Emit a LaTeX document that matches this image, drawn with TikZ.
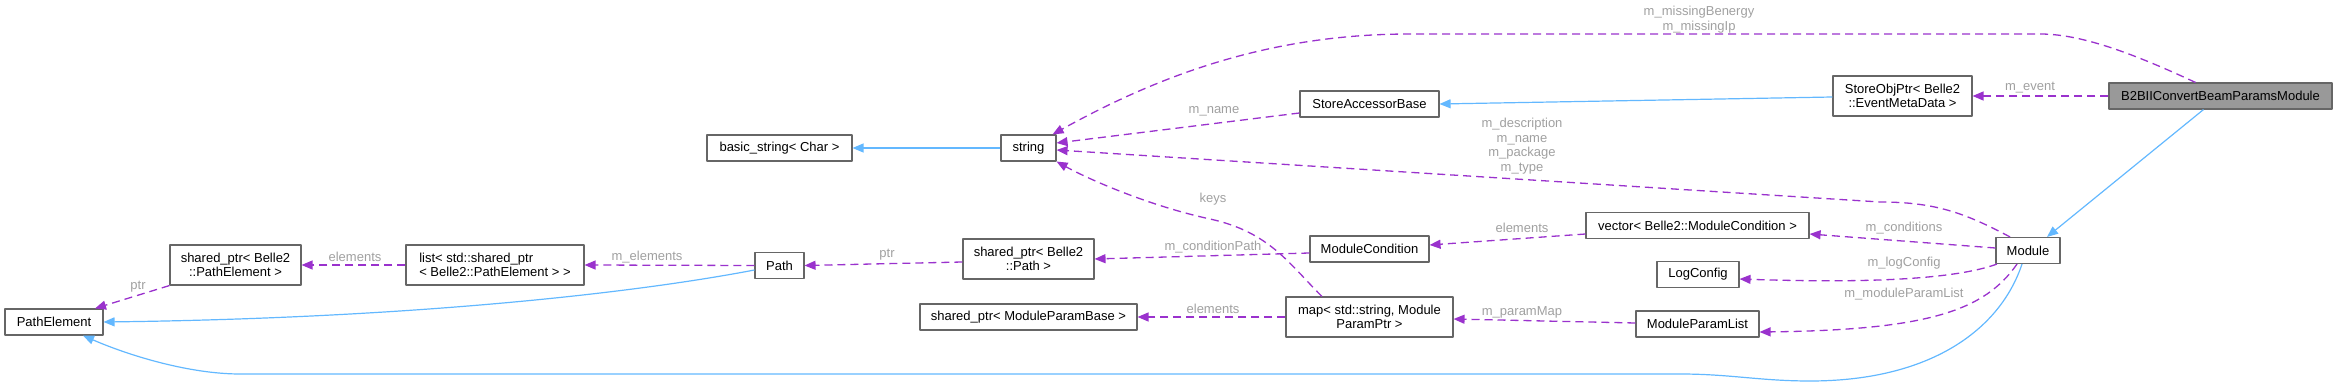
\documentclass[tikz,border=0pt]{standalone}
\usepackage{fontspec}
\setmainfont{Liberation Sans}
\usetikzlibrary{arrows.meta}
\definecolor{edgeviolet}{HTML}{9A32CD}
\definecolor{edgeblue}{HTML}{63B8FF}
\definecolor{boxgray}{HTML}{666666}
\definecolor{labelgray}{HTML}{A0A0A0}
\definecolor{focusfill}{HTML}{999999}
\begin{document}
\begin{tikzpicture}[x=1pt, y=-1pt, line join=round,
	cls/.style={draw=boxgray, line width=1.1pt, fill=white, inner sep=0pt, minimum height=26pt, font=\fontsize{13}{14.7}\selectfont, align=center},
	twoline/.style={minimum height=40pt},
	usedby/.style={draw=edgeviolet, line width=1.3pt, dash pattern=on 8pt off 5pt, -{Triangle[length=11pt,width=9pt]}},
	inherit/.style={draw=edgeblue, line width=1.2pt, -{Triangle[length=11pt,width=9pt]}},
	lbl/.style={text=labelgray, font=\fontsize{13}{14.7}\selectfont, align=center, inner sep=0pt}]
	\useasboundingbox (0,0) rectangle (2337,387);
	% classes
	\node[cls, minimum width=98pt] (pathelem) at (54,322) {PathElement};
	\node[cls, twoline, minimum width=131pt] (sppe) at (235.5,265) {shared\_ptr< Belle2\\::PathElement >};
	\node[cls, twoline, minimum width=178pt, align=left] (list) at (495,265) {list< std::shared\_ptr\\< Belle2::PathElement > >};
	\node[cls, minimum width=49pt] (path) at (779.5,265.5) {Path};
	\node[cls, minimum width=145pt] (bstring) at (779.5,148) {basic\_string< Char >};
	\node[cls, minimum width=55pt] (strng) at (1028.5,148) {string};
	\node[cls, twoline, minimum width=131pt] (sppath) at (1028.5,259) {shared\_ptr< Belle2\\::Path >};
	\node[cls, minimum width=217pt] (spmpb) at (1028.5,317) {shared\_ptr< ModuleParamBase >};
	\node[cls, minimum width=139pt] (sab) at (1369.5,104) {StoreAccessorBase};
	\node[cls, minimum width=119pt] (modcond) at (1369.5,249) {ModuleCondition};
	\node[cls, twoline, minimum width=167pt] (pmap) at (1369.5,317) {map< std::string, Module\\ParamPtr >};
	\node[cls, twoline, minimum width=139pt] (storeobj) at (1902.5,96) {StoreObjPtr< Belle2\\::EventMetaData >};
	\node[cls, minimum width=223pt] (vector) at (1697.5,225.5) {vector< Belle2::ModuleCondition >};
	\node[cls, minimum width=82pt] (logcfg) at (1698,274.5) {LogConfig};
	\node[cls, minimum width=123pt] (mplist) at (1697.5,324) {ModuleParamList};
	\node[cls, minimum width=64pt] (module) at (2028,250.5) {Module};
	\node[cls, minimum width=223pt, fill=focusfill] (b2bii) at (2220.5,96) {B2BIIConvertBeamParamsModule};
	% inheritance
	\draw[inherit] (strng) -- (bstring);
	\draw[inherit] ([yshift=-1pt]storeobj.west) -- (sab.east);
	\draw[inherit] ([xshift=-17pt]b2bii.south) -- ([xshift=19pt]module.north);
	\draw[inherit] ([yshift=-4.5pt]path.west) .. controls (640,292) and (420,318) .. (pathelem.east);
	\draw[inherit] ([xshift=-6pt]module.south) .. controls (2000,330) and (1930,381) .. (1810,381)
		.. controls (1760,381) and (1730,374) .. (1680,374) -- (240,374)
		.. controls (190,374) and (130,356) .. ([xshift=29pt]pathelem.south);
	% members
	\draw[usedby] ([xshift=-25pt]b2bii.north) .. controls (2130,52) and (2080,34) .. (2040,34) -- (1410,34)
		.. controls (1270,34) and (1160,75) .. ([xshift=-4pt]strng.north east);
	\node[lbl] (lmissing) at (1699,19.5) {m\_missingBenergy\\m\_missingIp};
	\draw[usedby] (b2bii.west) -- (storeobj.east);
	\node[lbl] (levent) at (2030,88) {m\_event};
	\draw[usedby] ([yshift=-9pt]sab.west) -- ([yshift=5pt]strng.east);
	\node[lbl] (lname) at (1214,111) {m\_name};
	\draw[usedby] ([xshift=-18pt]module.north) .. controls (1965,213) and (1935,202) .. (1880,202) -- ([yshift=-2pt]strng.east);
	\node[lbl] (ldescr) at (1522,146) {m\_description\\m\_name\\m\_package\\m\_type};
	\draw[usedby] ([yshift=2.5pt]module.west) -- ([yshift=-8.5pt]vector.east);
	\node[lbl] (lcond) at (1904,228) {m\_conditions};
	\draw[usedby] ([xshift=-31pt]module.south) .. controls (1945,283) and (1830,282) .. ([yshift=-4.5pt]logcfg.east);
	\node[lbl] (llog) at (1904,263) {m\_logConfig};
	\draw[usedby] ([xshift=-11pt]module.south) .. controls (1985,310) and (1930,330) .. ([yshift=-8pt]mplist.east);
	\node[lbl] (lmpl) at (1904,294) {m\_moduleParamList};
	\draw[usedby] ([yshift=-8.5pt]vector.west) -- ([yshift=4pt]modcond.east);
	\node[lbl] (lvec) at (1522,228) {elements};
	\draw[usedby] ([yshift=1pt]mplist.west) -- ([yshift=-2pt]pmap.east);
	\node[lbl] (lpmap) at (1522,312) {m\_paramMap};
	\draw[usedby] ([yshift=-4pt]modcond.west) -- (sppath.east);
	\node[lbl] (lcpath) at (1213,247) {m\_conditionPath};
	\draw[usedby] ([xshift=-47.5pt]pmap.north) .. controls (1290,265) and (1270,232) .. (1210,219)
		.. controls (1150,206) and (1090,180) .. (strng.south east);
	\node[lbl] (lkeys) at (1213,199) {keys};
	\draw[usedby] (pmap.west) -- (spmpb.east);
	\node[lbl] (lmpb) at (1213,309) {elements};
	\draw[usedby] ([yshift=-3pt]sppath.west) -- (path.east);
	\node[lbl] (lptrpath) at (887,255) {ptr};
	\draw[usedby] (path.west) -- (list.east);
	\node[lbl] (lelems) at (647,257) {m\_elements};
	\draw[usedby] (list.west) -- (sppe.east);
	\node[lbl] (llist) at (355,257) {elements};
	\draw[usedby] (sppe.south west) -- ([xshift=41pt]pathelem.north);
	\node[lbl] (lptrpe) at (138,287) {ptr};
\end{tikzpicture}
\end{document}
